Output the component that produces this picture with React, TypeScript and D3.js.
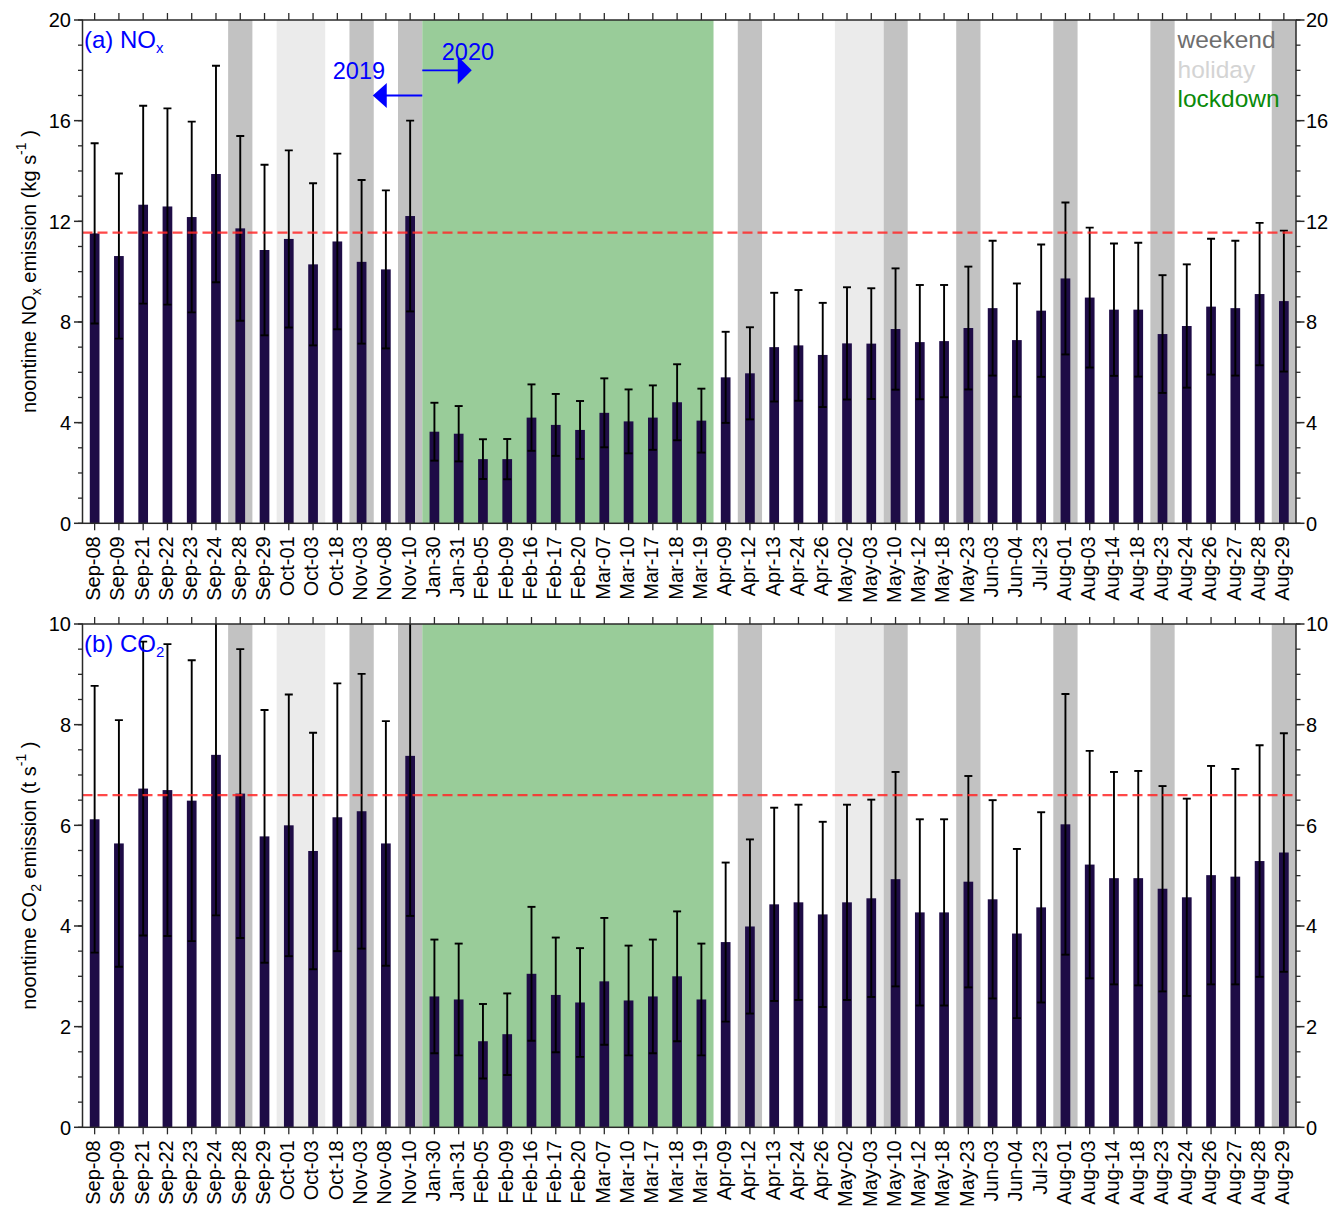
import React from 'react';
import * as d3 from 'd3';

const categories = [
  'Sep-08', 'Sep-09', 'Sep-21', 'Sep-22', 'Sep-23', 'Sep-24', 'Sep-28', 'Sep-29', 'Oct-01', 'Oct-03',
  'Oct-18', 'Nov-03', 'Nov-08', 'Nov-10', 'Jan-30', 'Jan-31', 'Feb-05', 'Feb-09', 'Feb-16', 'Feb-17',
  'Feb-20', 'Mar-07', 'Mar-10', 'Mar-17', 'Mar-18', 'Mar-19', 'Apr-09', 'Apr-12', 'Apr-13', 'Apr-24',
  'Apr-26', 'May-02', 'May-03', 'May-10', 'May-12', 'May-18', 'May-23', 'Jun-03', 'Jun-04', 'Jul-23',
  'Aug-01', 'Aug-03', 'Aug-14', 'Aug-18', 'Aug-23', 'Aug-24', 'Aug-26', 'Aug-27', 'Aug-28', 'Aug-29',
];

const noxValues = [
  11.52, 10.62, 12.66, 12.59, 12.17, 13.88, 11.72, 10.86, 11.30, 10.29,
  11.20, 10.39, 10.09, 12.21, 3.64, 3.56, 2.55, 2.55, 4.20, 3.91,
  3.71, 4.39, 4.05, 4.20, 4.81, 4.08, 5.80, 5.96, 7.00, 7.07,
  6.69, 7.15, 7.14, 7.72, 7.20, 7.24, 7.76, 8.55, 7.28, 8.45,
  9.73, 8.97, 8.49, 8.49, 7.52, 7.84, 8.61, 8.55, 9.11, 8.83,
];
const noxErrors = [
  3.58, 3.28, 3.93, 3.90, 3.79, 4.30, 3.67, 3.39, 3.52, 3.22,
  3.49, 3.25, 3.14, 3.79, 1.15, 1.10, 0.79, 0.80, 1.32, 1.23,
  1.15, 1.37, 1.27, 1.28, 1.51, 1.27, 1.81, 1.83, 2.16, 2.20,
  2.07, 2.23, 2.20, 2.41, 2.27, 2.23, 2.44, 2.68, 2.25, 2.63,
  3.02, 2.78, 2.63, 2.66, 2.34, 2.45, 2.70, 2.68, 2.83, 2.80,
];
const co2Values = [
  6.12, 5.64, 6.73, 6.70, 6.49, 7.40, 6.63, 5.78, 6.00, 5.49,
  6.16, 6.28, 5.64, 7.38, 2.60, 2.54, 1.71, 1.85, 3.05, 2.63,
  2.48, 2.90, 2.52, 2.60, 3.00, 2.54, 3.68, 3.99, 4.43, 4.47,
  4.23, 4.47, 4.55, 4.93, 4.27, 4.27, 4.88, 4.53, 3.85, 4.37,
  6.02, 5.22, 4.95, 4.95, 4.74, 4.57, 5.01, 4.98, 5.29, 5.46,
];
const co2Errors = [
  2.65, 2.45, 2.92, 2.90, 2.79, 3.19, 2.87, 2.51, 2.60, 2.35,
  2.66, 2.73, 2.43, 3.18, 1.13, 1.11, 0.74, 0.81, 1.33, 1.14,
  1.08, 1.26, 1.09, 1.13, 1.29, 1.11, 1.58, 1.73, 1.92, 1.94,
  1.84, 1.94, 1.96, 2.13, 1.85, 1.85, 2.10, 1.97, 1.68, 1.89,
  2.59, 2.26, 2.11, 2.13, 2.04, 1.96, 2.17, 2.14, 2.30, 2.37,
];

const weekendDays = ['Sep-28', 'Nov-03', 'Nov-10', 'Apr-12', 'May-10', 'May-23', 'Aug-01', 'Aug-23', 'Aug-29'];
const holidayDays = ['Oct-01', 'Oct-03', 'May-02', 'May-03'];
const lockdownDays = ['Jan-30', 'Jan-31', 'Feb-05', 'Feb-09', 'Feb-16', 'Feb-17', 'Feb-20', 'Mar-07', 'Mar-10', 'Mar-17', 'Mar-18', 'Mar-19'];

const noxRef = 11.55;
const co2Ref = 6.6;
const noxMajorTicks = [0, 4, 8, 12, 16, 20];
const co2MajorTicks = [0, 2, 4, 6, 8, 10];
const legendItems = ['weekend', 'holiday', 'lockdown'];
const legendColors = ['#6e6e6e', '#d4d4d4', '#0a8a0a'];

const W = 1333;
const H = 1208;
const LEFT = 82.5;
const RIGHT = 1296;
const PH = 503.3;
const FONT = "'Liberation Sans', Arial, Helvetica, sans-serif";
const BAR = '#1e0c46';
const AXIS = '#2a2a2a';

const x = d3.scaleBand<string>().domain(categories).range([LEFT, RIGHT]).padding(0);

// group consecutive categories into runs so shading is drawn seamlessly
function runs(days: string[]): [string, string][] {
  const idx = days.map((d) => categories.indexOf(d)).sort((a, b) => a - b);
  const out: [string, string][] = [];
  let start = idx[0];
  let prev = idx[0];
  for (let k = 1; k <= idx.length; k++) {
    const cur = idx[k];
    if (cur !== prev + 1) {
      out.push([categories[start], categories[prev]]);
      start = cur;
    }
    prev = cur;
  }
  return out;
}

type PanelProps = {
  id: string;
  top: number;
  yMax: number;
  values: number[];
  errors: number[];
  refValue: number;
  majorTicks: number[];
  minorStep: number;
  label: React.ReactNode;
  title: React.ReactNode;
  extra?: (y: d3.ScaleLinear<number, number>) => React.ReactNode;
};

function Panel({ id, top, yMax, values, errors, refValue, majorTicks, minorStep, label, title, extra }: PanelProps) {
  const y = d3.scaleLinear().domain([0, yMax]).range([top + PH, top]);
  const bw = x.bandwidth();
  const barW = bw * 0.4;
  const capW = 8;
  const minor = d3.range(0, yMax + 1e-9, minorStep);
  const bottom = top + PH;
  const cx = (c: string) => (x(c) as number) + bw / 2;

  const shade = (days: string[], color: string, key: string) =>
    runs(days).map(([a, b]) => {
      const x0 = x(a) as number;
      const x1 = (x(b) as number) + bw;
      return <rect key={key + a} x={x0} y={top} width={x1 - x0} height={PH} fill={color} />;
    });

  return (
    <g>
      <defs>
        <clipPath id={id}>
          <rect x={LEFT} y={top} width={RIGHT - LEFT} height={PH} />
        </clipPath>
      </defs>
      {shade(weekendDays, '#c2c2c2', 'w')}
      {shade(holidayDays, '#ebebeb', 'h')}
      {shade(lockdownDays, '#99cc99', 'l')}
      <g clipPath={`url(#${id})`}>
        {categories.map((c, i) => (
          <rect key={c} x={cx(c) - barW / 2} y={y(values[i])} width={barW} height={bottom - y(values[i])} fill={BAR} />
        ))}
        {categories.map((c, i) => {
          const hi = y(values[i] + errors[i]);
          const lo = y(values[i] - errors[i]);
          const xc = cx(c);
          return (
            <g key={'e' + c} stroke="#000" strokeWidth={1.9}>
              <line x1={xc} x2={xc} y1={hi} y2={lo} />
              <line x1={xc - capW / 2} x2={xc + capW / 2} y1={hi} y2={hi} />
              <line x1={xc - capW / 2} x2={xc + capW / 2} y1={lo} y2={lo} />
            </g>
          );
        })}
        <line x1={LEFT} x2={RIGHT} y1={y(refValue)} y2={y(refValue)} stroke="#ff2828" strokeOpacity={0.85} strokeWidth={2.4} strokeDasharray="10,5" />
      </g>
      {extra && extra(y)}
      <rect x={LEFT} y={top} width={RIGHT - LEFT} height={PH} fill="none" stroke={AXIS} strokeWidth={1.5} />
      {categories.map((c) => (
        <g key={'t' + c} stroke={AXIS} strokeWidth={1.3}>
          <line x1={cx(c)} x2={cx(c)} y1={top} y2={top - 7} />
          <line x1={cx(c)} x2={cx(c)} y1={bottom} y2={bottom + 7} />
        </g>
      ))}
      {minor.map((v) => (
        <g key={'m' + v} stroke={AXIS} strokeWidth={1.3}>
          <line x1={LEFT} x2={LEFT - 4.5} y1={y(v)} y2={y(v)} />
          <line x1={RIGHT} x2={RIGHT + 4.5} y1={y(v)} y2={y(v)} />
        </g>
      ))}
      {majorTicks.map((v) => (
        <g key={'M' + v}>
          <line x1={LEFT} x2={LEFT - 8.5} y1={y(v)} y2={y(v)} stroke={AXIS} strokeWidth={1.5} />
          <line x1={RIGHT} x2={RIGHT + 8.5} y1={y(v)} y2={y(v)} stroke={AXIS} strokeWidth={1.5} />
          <text x={LEFT - 11.5} y={y(v)} dy="0.36em" textAnchor="end" fontSize={20} fontFamily={FONT} fill="#000">{v}</text>
          <text x={RIGHT + 10} y={y(v)} dy="0.36em" textAnchor="start" fontSize={20} fontFamily={FONT} fill="#000">{v}</text>
        </g>
      ))}
      {categories.map((c) => (
        <text key={'xl' + c} transform={`translate(${cx(c)},${bottom + 13}) rotate(-90)`} dy="0.27em" textAnchor="end" fontSize={20} fontFamily={FONT} fill="#000">{c}</text>
      ))}
      <text x={LEFT + 1.5} y={top + 27.7} fontSize={24} fontFamily={FONT} fill="#0000ff">{label}</text>
      <text transform={`translate(36,${top + PH / 2}) rotate(-90)`} textAnchor="middle" fontSize={20} fontFamily={FONT} fill="#000">{title}</text>
    </g>
  );
}

export default function App() {
  const arrowX = x('Jan-30') as number;
  return (
    <svg width={W} height={H} style={{ position: 'absolute', left: 0, top: 0, background: '#fff' }}>
      <rect x={0} y={0} width={W} height={H} fill="#fff" />
      <Panel
        id="clipA"
        top={20}
        yMax={20}
        values={noxValues}
        errors={noxErrors}
        refValue={noxRef}
        majorTicks={noxMajorTicks}
        minorStep={1}
        label={<>(a) NO<tspan fontSize={15} dy="5">x</tspan></>}
        title={<>noontime NO<tspan fontSize={14} dy="5">x</tspan><tspan dy="-5"> emission (kg s</tspan><tspan fontSize={14} dy="-10">-1</tspan><tspan dy="10"> )</tspan></>}
        extra={(y) => (
          <g>
            <line x1={arrowX} x2={arrowX - 37} y1={y(17)} y2={y(17)} stroke="#0000ff" strokeWidth={1.8} />
            <path d={`M${arrowX - 49.5},${y(17)} L${arrowX - 35.5},${y(17) - 12.5} L${arrowX - 35.5},${y(17) + 12.5} Z`} fill="#0000ff" />
            <text x={arrowX - 89.5} y={y(17) - 16.7} fontSize={23.5} fontFamily={FONT} fill="#0000ff">2019</text>
            <line x1={arrowX} x2={arrowX + 37} y1={y(18)} y2={y(18)} stroke="#0000ff" strokeWidth={1.8} />
            <path d={`M${arrowX + 49.5},${y(18)} L${arrowX + 35.5},${y(18) - 14} L${arrowX + 35.5},${y(18) + 14} Z`} fill="#0000ff" />
            <text x={arrowX + 19.5} y={y(18) - 10} fontSize={23.5} fontFamily={FONT} fill="#0000ff">2020</text>
            {legendItems.map((t, i) => (
              <text key={t} x={1177.5} y={48 + i * 29.5} fontSize={24.5} fontFamily={FONT} fill={legendColors[i]}>{t}</text>
            ))}
          </g>
        )}
      />
      <Panel
        id="clipB"
        top={624}
        yMax={10}
        values={co2Values}
        errors={co2Errors}
        refValue={co2Ref}
        majorTicks={co2MajorTicks}
        minorStep={0.5}
        label={<>(b) CO<tspan fontSize={15} dy="5">2</tspan></>}
        title={<>noontime CO<tspan fontSize={14} dy="5">2</tspan><tspan dy="-5"> emission (t s</tspan><tspan fontSize={14} dy="-10">-1</tspan><tspan dy="10"> )</tspan></>}
      />
    </svg>
  );
}
